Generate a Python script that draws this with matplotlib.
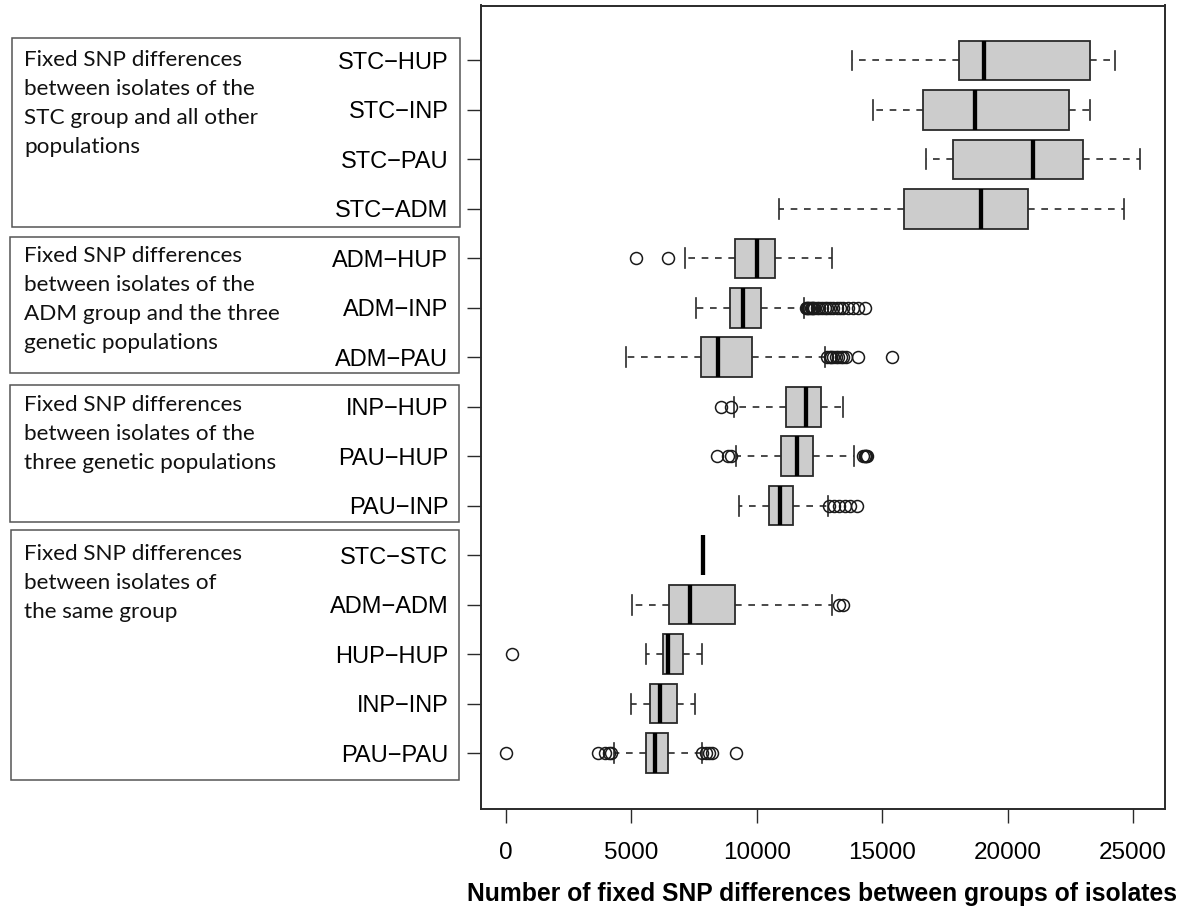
import matplotlib
matplotlib.use("Agg")
import matplotlib.pyplot as plt
from matplotlib.patches import Rectangle

# ---------------- data (top to bottom) ----------------
labels = ["STC\u2212HUP", "STC\u2212INP", "STC\u2212PAU", "STC\u2212ADM",
          "ADM\u2212HUP", "ADM\u2212INP", "ADM\u2212PAU",
          "INP\u2212HUP", "PAU\u2212HUP", "PAU\u2212INP",
          "STC\u2212STC", "ADM\u2212ADM", "HUP\u2212HUP", "INP\u2212INP", "PAU\u2212PAU"]

whislo = [13814, 14627, 16750, 10886, 7129, 7583, 4791, 9075, 9183, 9271, 7866, 5038, 5581, 5002, 4316]
q1     = [18071, 16622, 17839, 15853, 9127, 8936, 7775, 11166, 10974, 10499, 7866, 6494, 6267, 5756, 5565]
med    = [19056, 18709, 21035, 18944, 10025, 9442, 8469, 11956, 11621, 10918, 7866, 7336, 6459, 6143, 5932]
q3     = [23269, 22447, 23001, 20823, 10743, 10172, 9801, 12554, 12255, 11445, 7866, 9111, 7057, 6810, 6478]
whishi = [24266, 23269, 25283, 24649, 13009, 11900, 12725, 13432, 13870, 12833, 7866, 13009, 7811, 7547, 7795]

outliers = [
    [],
    [],
    [],
    [],
    [5178, 6459],
    [11950, 12000, 12050, 12100, 12150, 12200, 12250, 12300, 12400, 12500, 12600,
     12700, 12800, 12900, 13050, 13200, 13320, 13456, 13655, 13855, 14054, 14321],
    [12800, 12900, 12950, 13050, 13150, 13250, 13350, 13450, 13550, 14054, 15386],
    [8569, 8971],
    [8393, 8832, 8971, 14250, 14300, 14330, 14360, 14400],
    [12885, 13097, 13272, 13499, 13711, 14010],
    [],
    [13272, 13448],
    [227],
    [],
    [0, 3670, 3965, 4089, 4196, 7831, 7954, 8094, 8218, 9163],
]

xticks = [0, 5000, 10000, 15000, 20000, 25000]
xlabel = "Number of fixed SNP differences between groups of isolates"

group_boxes = [
    ["Fixed SNP differences", "between isolates of the", "STC group and all other", "populations"],
    ["Fixed SNP differences", "between isolates of the", "ADM group and the three", "genetic populations"],
    ["Fixed SNP differences", "between isolates of the", "three genetic populations"],
    ["Fixed SNP differences", "between isolates of", "the same group"],
]

# ---------------- figure ----------------
W, H = 1182, 910
fig = plt.figure(figsize=(W / 100, H / 100), dpi=100)

def fx(px):
    return px / W

def fy(py):
    return 1 - py / H

ax_l, ax_r, ax_t, ax_b = 481, 1165, 5.5, 809
ax = fig.add_axes([fx(ax_l), fy(ax_b), fx(ax_r - ax_l), (ax_b - ax_t) / H])

edge = "#2a2a2a"
stats = []
for i in range(len(labels)):
    stats.append(dict(label=labels[i], whislo=whislo[i], q1=q1[i], med=med[i],
                      q3=q3[i], whishi=whishi[i], fliers=outliers[i]))

positions = list(range(1, len(labels) + 1))
ax.bxp(stats, positions=positions, vert=False, widths=0.8, capwidths=0.4,
       patch_artist=True, showfliers=True,
       boxprops=dict(facecolor="#cccccc", edgecolor=edge, linewidth=1.3),
       medianprops=dict(color="black", linewidth=3.1, solid_capstyle="butt"),
       whiskerprops=dict(color=edge, linewidth=1.2, linestyle=(0, (4.0, 4.0))),
       capprops=dict(color=edge, linewidth=1.2),
       flierprops=dict(marker="o", markerfacecolor="none", markeredgecolor="#1a1a1a",
                       markersize=8.6, markeredgewidth=1.1, linestyle="none"))

ax.set_xlim(-1000, 26280)
ax.set_ylim(len(labels) + 1.13, -0.11)
ax.set_xticks(xticks)
ax.set_xticklabels([str(t) for t in xticks], fontsize=17.5, family="Liberation Sans")
ax.set_yticks(positions)
ax.set_yticklabels(labels, fontsize=17.0, family="Liberation Sans")
ax.tick_params(axis="both", length=10, width=1.0, color=edge, pad=13.5)
for s in ax.spines.values():
    s.set_color(edge)
    s.set_linewidth(1.4)

fig.text(fx(822), fy(894), xlabel, ha="center", va="center", fontsize=17.8,
         fontweight="bold", family="Liberation Sans")

# ---------------- group annotation boxes ----------------
rects = [(11.7, 38.3, 460, 227.3), (10, 236.7, 459, 373.3),
         (10, 384.7, 459, 521.7), (11, 530, 459.3, 780)]
first_base = [66, 261.7, 410.7, 560]
line_gap = 29
for (x0, y0, x1, y1), lines, b0 in zip(rects, group_boxes, first_base):
    fig.patches.append(Rectangle((fx(x0), fy(y1)), fx(x1 - x0), (y1 - y0) / H,
                                 transform=fig.transFigure, fill=False,
                                 edgecolor="#555555", linewidth=1.1))
    for k, line in enumerate(lines):
        fig.text(fx(24), fy(b0 + k * line_gap), line, ha="left", va="baseline",
                 fontsize=16.2, family="Lato", color="#111111")

fig.savefig("out.png", dpi=100)
